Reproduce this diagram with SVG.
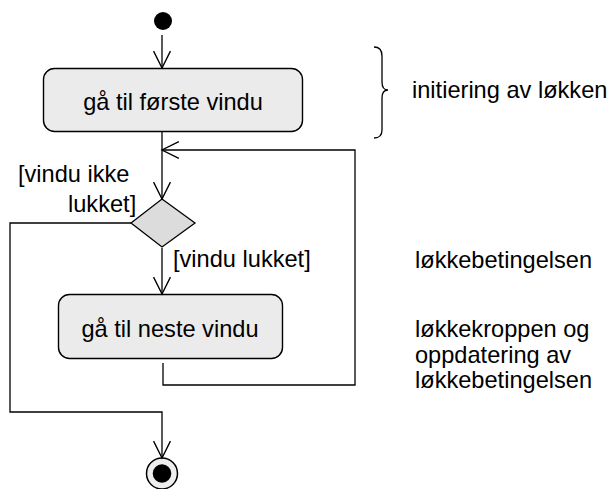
<svg xmlns="http://www.w3.org/2000/svg" width="612" height="489" viewBox="0 0 612 489">
<defs>
<style>
text{font-family:"Liberation Sans",Arial,sans-serif;font-size:23.6px;fill:#000}
.box{fill:#ebebeb;stroke:#000;stroke-width:1.4}
.ln{fill:none;stroke:#000;stroke-width:1.3}
.mid{text-anchor:middle}
</style>
<marker id="arr" markerWidth="20" markerHeight="20" viewBox="-17 -9 19 18" refX="0" refY="0" orient="auto" markerUnits="userSpaceOnUse">
<path d="M-16,-8 L0,0 L-16,8" fill="none" stroke="#000" stroke-width="1.3"/>
</marker>
</defs>
<rect width="612" height="489" fill="#fff"/>
<g id="start"><circle cx="163" cy="21" r="9" fill="#000"/></g>
<g id="act1"><rect class="box" x="43.5" y="68.5" width="259" height="63" rx="11"/><text class="mid" x="173" y="110">gå til første vindu</text></g>
<g id="decision"><polygon points="162,199 195,223 162,247 131,223" fill="#dcdcdc" stroke="#000" stroke-width="1.3"/></g>
<g id="act2"><rect class="box" x="58.5" y="294.5" width="224" height="64" rx="11"/><text class="mid" x="170" y="337">gå til neste vindu</text></g>
<g id="end"><circle cx="162" cy="473.5" r="15.5" fill="#eeeeee" stroke="#000" stroke-width="1.5"/><circle cx="162" cy="473.5" r="9.3" fill="#000"/></g>
<g id="connectors">
<path class="ln" d="M162,35 L162,68" marker-end="url(#arr)"/>
<path class="ln" d="M162,132 L162,199" marker-end="url(#arr)"/>
<path class="ln" d="M162,248 L162,294" marker-end="url(#arr)"/>
<path class="ln" d="M163,363 L163,385 L355,385 L355,150 L162,150" marker-end="url(#arr)"/>
<path class="ln" d="M131,223 L10,223 L10,412 L162,412 L162,458" marker-end="url(#arr)"/>
</g>
<g id="labels">
<text x="18" y="182">[vindu ikke</text>
<text x="68" y="212">lukket]</text>
<text x="173" y="267">[vindu lukket]</text>
</g>
<g id="annotations">
<path class="ln" d="M374,47 Q382,47 382,56 L382,82 Q382,90 388,90 Q382,90 382,98 L382,130 Q382,138 374,138"/>
<text x="412" y="98">initiering av løkken</text>
<text x="415" y="268">løkkebetingelsen</text>
<text x="415" y="337">løkkekroppen og</text>
<text x="415" y="362.5">oppdatering av</text>
<text x="415" y="388">løkkebetingelsen</text>
</g>
</svg>
